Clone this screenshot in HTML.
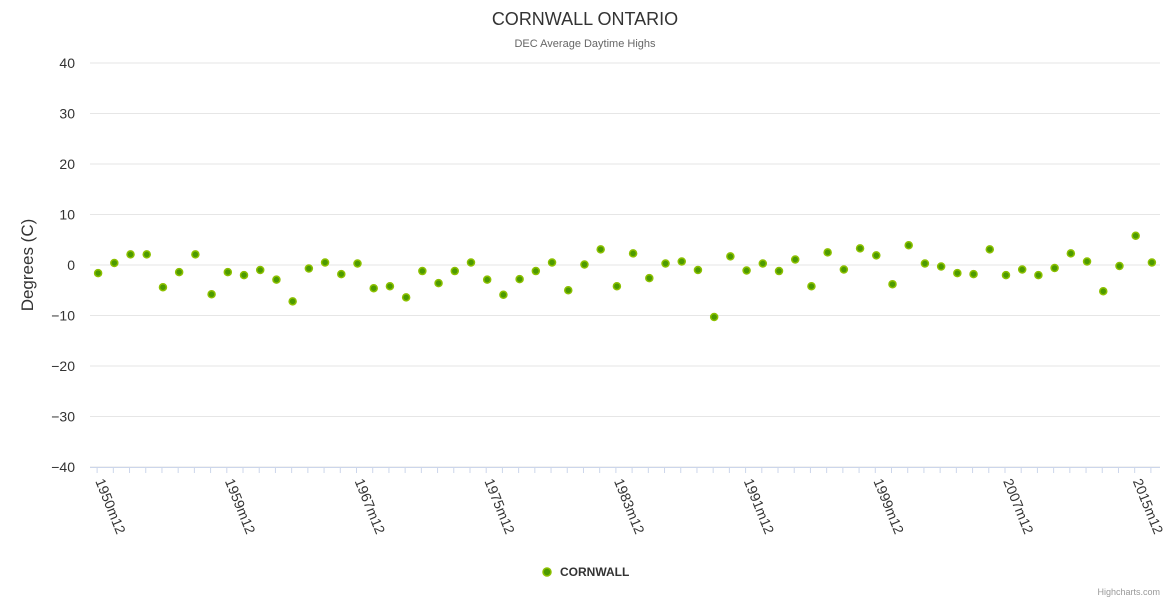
<!DOCTYPE html>
<html><head><meta charset="utf-8"><style>
html,body{margin:0;padding:0;background:#fff;}
svg{display:block;font-family:"Liberation Sans",sans-serif;}
</style></head><body>
<svg id="chart" width="1170" height="600">
<text x="585" y="25" text-anchor="middle" font-size="18" fill="#333">CORNWALL ONTARIO</text>
<text x="585" y="47" text-anchor="middle" font-size="11" fill="#666">DEC Average Daytime Highs</text>
<text transform="translate(33,265) rotate(-90)" text-anchor="middle" font-size="17" fill="#333">Degrees (C)</text>
<g id="grid"></g><g id="xaxis"></g><g id="points"></g>
<g>
<circle cx="547" cy="572" r="4" fill="#4c9a00" stroke="#8cc000" stroke-width="1.5"/>
<text x="560" y="576" font-size="12" font-weight="bold" fill="#333">CORNWALL</text>
</g>
<text x="1160" y="595" text-anchor="end" font-size="9" fill="#999">Highcharts.com</text>
</svg>
<script>
const years = [1950,1951,1952,1953,1954,1955,1956,1957,1959,1960,1961,1962,1963,1964,1965,1966,1967,1968,1969,1970,1971,1972,1973,1974,1975,1976,1977,1978,1979,1980,1981,1982,1983,1984,1985,1986,1987,1988,1989,1990,1991,1992,1993,1994,1995,1996,1997,1998,1999,2000,2001,2002,2003,2004,2005,2006,2007,2008,2009,2010,2011,2012,2013,2014,2015,2016];
const values = [-1.6,0.4,2.1,2.1,-4.4,-1.4,2.1,-5.8,-1.4,-2.0,-1.0,-2.9,-7.2,-0.7,0.5,-1.8,0.3,-4.6,-4.2,-6.4,-1.2,-3.6,-1.2,0.5,-2.9,-5.9,-2.8,-1.2,0.5,-5.0,0.1,3.1,-4.2,2.3,-2.6,0.3,0.7,-1.0,-10.3,1.7,-1.1,0.3,-1.2,1.1,-4.2,2.5,-0.9,3.3,1.9,-3.8,3.9,0.3,-0.3,-1.6,-1.8,3.1,-2.0,-0.9,-2.0,-0.6,2.3,0.7,-5.2,-0.2,5.8,0.5];
const yTicks = [-40,-30,-20,-10,0,10,20,30,40];
const NS='http://www.w3.org/2000/svg';
const pL=90,pR=1160,pT=63,pB=467;
const step=(pR-pL)/years.length;
const xS=i=>pL+step*(i+0.5);
const yS=v=>pB-(v+40)/80*(pB-pT);
function mk(t,a,p){const e=document.createElementNS(NS,t);for(const k in a)e.setAttribute(k,a[k]);p.appendChild(e);return e;}
const grid=document.getElementById('grid');
yTicks.forEach(t=>{
  const l=mk('line',{x1:pL,x2:pR,y1:yS(t),y2:yS(t),stroke:'#e6e6e6','stroke-width':1},grid);
  
  
  const tx=mk('text',{x:75,y:yS(t)+5,'text-anchor':'end','font-size':14,fill:'#333'},grid);
  tx.textContent=(t<0?'\u2212'+(-t):t);
  
  
});
const xa=document.getElementById('xaxis');
const ax=mk('line',{x1:pL,x2:pR,y1:pB+0.5,y2:pB+0.5,stroke:'#ccd6eb'},xa);


years.forEach((y,i)=>{
  mk('line',{x1:xS(i)-1,x2:xS(i)-1,y1:pB,y2:pB+6,stroke:'#ccd6eb'},xa);
  if(i%8===0){
    const t=mk('text',{transform:`translate(${xS(i)-3},${pB+14}) rotate(68)`,'font-size':14,fill:'#333'},xa);
    t.textContent=y+'m12';
    
    
  }
});
const pts=document.getElementById('points');
values.forEach((v,i)=>{
  const c=mk('circle',{cx:xS(i),cy:yS(v),r:3.5,fill:'#4c9a00',stroke:'#8cc000','stroke-width':1.5},pts);
  
  
});
</script>
</body></html>
